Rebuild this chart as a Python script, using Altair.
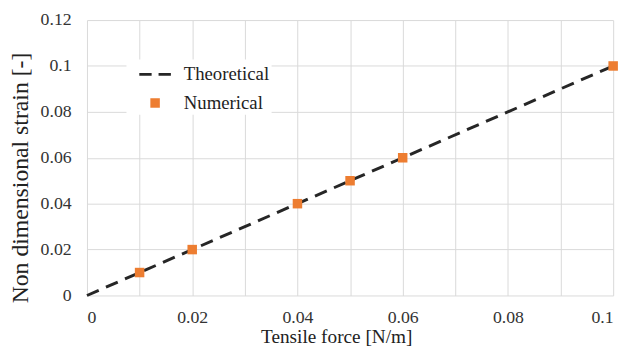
import altair as alt
import pandas as pd

# ---- data ----
theory_x = [0.0, 0.1]
theory_y = [0.0, 0.1]
num_x = [0.01, 0.02, 0.04, 0.05, 0.06, 0.1]
num_y = [0.01, 0.02, 0.04, 0.05, 0.06, 0.1]
series_names = ["Theoretical", "Numerical"]
x_ticks = [0, 0.01, 0.02, 0.03, 0.04, 0.05, 0.06, 0.07, 0.08, 0.09, 0.1]
y_ticks = [0, 0.02, 0.04, 0.06, 0.08, 0.1, 0.12]
x_title = "Tensile force [N/m]"
y_title = "Non dimensional strain [-]"

FONT = "Liberation Serif"
W, H = 533, 279

line_df = pd.DataFrame({"x": theory_x, "y": theory_y, "series": "Theoretical"})
pt_df = pd.DataFrame({"x": num_x, "y": num_y, "series": "Numerical"})

dash_path = "M-1.23,-0.115H-0.27V0.115H-1.23Z M0.27,-0.115H1.23V0.115H0.27Z"
square_path = "M-0.37,-0.37H0.37V0.37H-0.37Z"

x_enc = alt.X(
    "x:Q",
    scale=alt.Scale(domain=[0, 0.1], nice=False, zero=False),
    axis=alt.Axis(
        values=x_ticks,
        format=".2~f",
        labelExpr="(round(datum.value*100) % 2 == 0) ? datum.label : ''",
        title=x_title,
        grid=True,
        gridColor="#d9d9d9",
        domain=False,
        ticks=False,
        tickSize=0,
        labelPadding=13,
        labelFont=FONT,
        labelFontSize=18,
        labelColor="#333333",
        titleFont=FONT,
        titleFontSize=19.5,
        titleFontWeight="normal",
        titleColor="#222222",
        titleX=252.5,
        titleY=48,
        titleBaseline="alphabetic",
        titleAlign="center",
        labelOverlap=False,
    ),
)
y_enc = alt.Y(
    "y:Q",
    scale=alt.Scale(domain=[0, 0.12], nice=False, zero=False),
    axis=alt.Axis(
        values=y_ticks,
        format=".2~f",
        title=y_title,
        grid=True,
        gridColor="#d9d9d9",
        domain=False,
        ticks=False,
        tickSize=0,
        labelPadding=16,
        labelFont=FONT,
        labelFontSize=18,
        labelColor="#333333",
        titleFont=FONT,
        titleFontSize=24,
        titleFontWeight="normal",
        titleColor="#222222",
        titleX=-60,
        titleY=159.5,
        titleAngle=270,
        titleBaseline="alphabetic",
        titleAlign="center",
        labelOverlap=False,
    ),
)

legend = alt.Legend(
    title=None,
    orient="none",
    legendX=40,
    legendY=40,
    padding=2,
    fillColor="white",
    symbolSize=676,
    symbolOffset=14,
    labelOffset=16,
    rowPadding=6,
    symbolStrokeWidth=0,
    labelFont=FONT,
    labelFontSize=19,
    labelColor="#222222",
    labelExpr="datum.label + '\u00a0\u00a0'",
)

line = alt.Chart(line_df).mark_line(
    color="#262626", strokeWidth=3, strokeDash=[13, 8]
).encode(x=x_enc, y=y_enc)

pts = alt.Chart(pt_df).mark_point(
    filled=True, size=676, opacity=1, strokeWidth=0
).encode(
    x=x_enc,
    y=y_enc,
    color=alt.Color(
        "series:N",
        scale=alt.Scale(domain=series_names, range=["#262626", "#ED7D31"]),
        legend=legend,
    ),
    shape=alt.Shape(
        "series:N",
        scale=alt.Scale(domain=series_names, range=[dash_path, square_path]),
        legend=legend,
    ),
)

chart = (
    alt.layer(line, pts)
    .properties(
        width=W,
        height=H,
        padding={"left": 80, "top": 10, "right": 12, "bottom": 53},
        autosize=alt.AutoSizeParams(type="none"),
        background="white",
    )
    .configure_view(stroke=None)
)

chart.save("out.html", embed_options={"renderer": "svg", "actions": False})
